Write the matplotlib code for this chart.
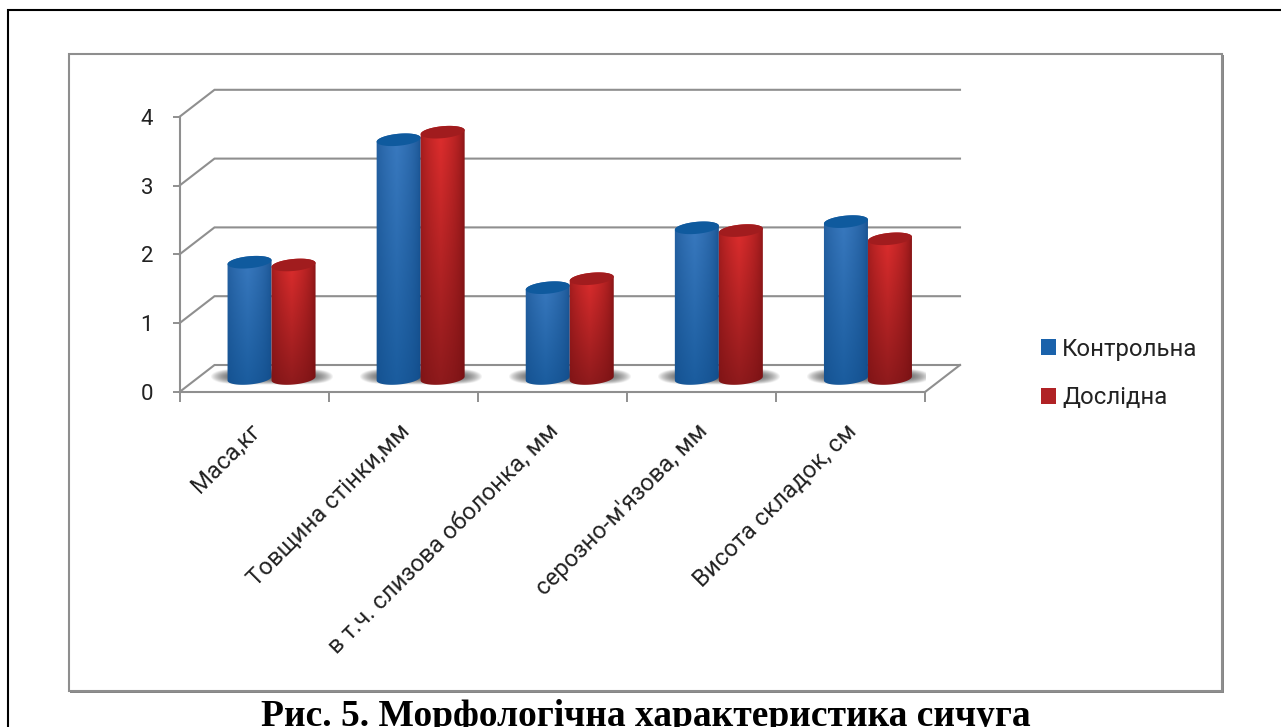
import numpy as np
import matplotlib
matplotlib.use("Agg")
import matplotlib.pyplot as plt
from matplotlib.patches import Rectangle, Patch
from matplotlib.path import Path
from matplotlib.transforms import ScaledTranslation

W, H = 1281, 727

categories = ["Маса,кг", "Товщина стінки,мм", "в т.ч. слизова оболонка, мм",
              "серозно-м'язова, мм", "Висота складок, см"]
kontrol = [1.69, 3.47, 1.32, 2.19, 2.28]
doslid = [1.65, 3.58, 1.45, 2.15, 2.03]
y_ticks = [0, 1, 2, 3, 4]
series_names = ["Контрольна", "Дослідна"]

plt.rcParams["font.family"] = ["Roboto", "DejaVu Sans"]
grey = "#8f8f8f"

fig = plt.figure(figsize=(W / 100, H / 100), dpi=100)
ax = fig.add_axes([179.5 / W, 1 - 392 / H, 745.5 / W, 275.2 / H])
ax.set_xlim(0, 5)
ax.set_ylim(0, 4)
ax.autoscale(False)
ax.patch.set_alpha(0)

# pixels to data units
ux = 5 / 745.5
uy = 4 / 275.2
depth_x = 35 * ux
depth_y = 27 * uy

# page box (open on the right) and chart frame
fig.add_artist(Rectangle((8 / W, -0.1), 1400 / W, 1.1 - 10 / H, transform=fig.transFigure,
                         fc="white", ec="black", lw=1.5, zorder=-5))
fig.add_artist(Rectangle((70 / W, 1 - 693 / H), 1154 / W, 638 / H, transform=fig.transFigure,
                         fc="#868686", ec="none", zorder=-4))
fig.add_artist(Rectangle((69 / W, 1 - 691 / H), 1153 / W, 637 / H, transform=fig.transFigure,
                         fc="white", ec="#8e8e8e", lw=1.5, zorder=-3))

# walls
for v in y_ticks:
    ax.plot([0, depth_x, 5 + depth_x], [v, v + depth_y, v + depth_y], color=grey, lw=1.5,
            clip_on=False, zorder=1, solid_joinstyle="miter")
ax.plot([5, 5 + depth_x], [0, depth_y], color=grey, lw=1.5, clip_on=False, zorder=1)

for s in ["top", "right"]:
    ax.spines[s].set_visible(False)
for s in ["left", "bottom"]:
    ax.spines[s].set_color(grey)
    ax.spines[s].set_linewidth(1.5)
    ax.spines[s].set_zorder(1)

ax.set_yticks(y_ticks)
ax.tick_params(axis="y", length=5, width=1.4, color=grey, labelsize=16, pad=14, labelcolor="#222222")
ax.set_xticks(np.arange(6), minor=True)
ax.tick_params(axis="x", which="minor", length=7, width=1.4, color=grey)
ax.set_xticks(np.arange(5) + 0.5)
ax.set_xticklabels(categories, rotation=45, ha="right", va="top", rotation_mode="anchor",
                   fontsize=17.2, color="#222222")
ax.tick_params(axis="x", which="major", length=0, pad=20)
nudge = ScaledTranslation(-5 / 100, 0, fig.dpi_scale_trans)
for lab in ax.get_xticklabels():
    lab.set_transform(lab.get_transform() + nudge)

bar_w = 44 * ux
off_x = depth_x / 2
off_y = depth_y / 2
t = np.linspace(0, 2 * np.pi, 81)


def ell(cx, cy, ts):
    # slightly tilted ellipse, pixel shape in data units
    a = 22
    b = 6
    px = a * np.cos(ts)
    py = b * np.sin(ts) + 0.09 * px
    return cx + px * ux, cy + py * uy


def shading(light, dark, edge):
    xs = np.linspace(0, 1, 60)
    ys = np.linspace(0, 1, 80)[:, None]
    hor = np.clip(1 - np.abs(xs - 0.45) / 0.55, 0, 1)[None, :] ** 0.45
    img = np.zeros((80, 60, 3))
    for c in range(3):
        mid = light[c] * (1 - ys) + dark[c] * ys
        img[:, :, c] = edge[c] + (mid - edge[c]) * hor
    return img / 255


def cylinder(cx, v, light, dark, edge, top_col, z):
    cy = off_y
    top = v + off_y
    bx, by = ell(cx, cy, np.linspace(np.pi, 2 * np.pi, 40))
    tx, ty = ell(cx, top, np.linspace(0, np.pi, 40))
    poly = np.column_stack([np.r_[bx, tx], np.r_[by, ty]])
    im = ax.imshow(shading(light, dark, edge), origin="upper", aspect="auto", zorder=z,
                   extent=[cx - 23 * ux, cx + 23 * ux, off_y - 8 * uy, top + 8 * uy],
                   interpolation="bilinear")
    im.set_clip_path(Path(poly), ax.transData)
    ex, ey = ell(cx, top, t)
    ax.fill(ex, ey, color=top_col, lw=0, zorder=z + 0.1)


def floor_shadow(cx):
    xs = np.linspace(-1, 1, 120)
    ys = np.linspace(-1, 1, 30)[:, None]
    a = np.clip(1 - np.abs(xs) ** 5 - ys ** 2, 0, 1) * 0.85
    img = np.zeros((30, 120, 4))
    img[:, :, :3] = 0.28
    img[:, :, 3] = a
    ax.imshow(img, aspect="auto", zorder=2, interpolation="bilinear",
              extent=[cx - 62 * ux, cx + 62 * ux, off_y - 7 * uy, off_y + 10 * uy])


blue = ((58, 122, 192), (26, 92, 158), (16, 72, 132), "#0f5a9e")
red = ((224, 46, 46), (142, 26, 28), (112, 14, 16), "#a11c1e")

for i in range(len(categories)):
    mid = i + 0.5 + off_x
    floor_shadow(mid)
    cylinder(mid - bar_w / 2, kontrol[i], *blue, 3)
    cylinder(mid + bar_w / 2, doslid[i], *red, 3.5)

handles = [Patch(fc="#1a62ab", ec="none"), Patch(fc="#b02225", ec="none")]
fig.legend(handles, series_names, loc="center left", bbox_to_anchor=(1041 / W, 1 - 373.5 / H),
           frameon=False, fontsize=17.2, handlelength=0.62, handleheight=0.62, handletextpad=0.27,
           labelspacing=1.08, borderpad=0, borderaxespad=0, labelcolor="#222222")

fig.text(646 / W, 1 - 726 / H, "Рис. 5. Морфологічна характеристика сичуга", ha="center",
         va="baseline", family="Liberation Serif", weight="bold", fontsize=27, color="black")

plt.savefig("out.png", dpi=100)
